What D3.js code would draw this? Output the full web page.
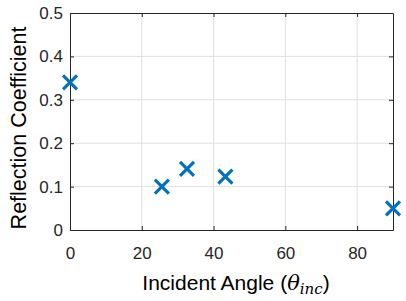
<!DOCTYPE html>
<html>
<head>
<meta charset="utf-8">
<script src="https://cdn.jsdelivr.net/npm/d3@7"></script>
<style>
  html, body { margin: 0; padding: 0; background: #fff; }
  svg { display: block; font-family: Arial, "Liberation Sans", sans-serif; }
</style>
</head>
<body>
<svg id="chart" width="406" height="301"></svg>
<script>
// data
var angles = [0, 25.6, 32.6, 43.3, 90];
var coefficients = [0.34, 0.10, 0.141, 0.123, 0.05];
var xTicks = [0, 20, 40, 60, 80];
var yTicks = [0, 0.1, 0.2, 0.3, 0.4, 0.5];

var W = 406, H = 301;
var plot = { left: 70, top: 13, right: 393, bottom: 230 };

var svg = d3.select("#chart");

var x = d3.scaleLinear().domain([0, 90]).range([plot.left, plot.right]);
var y = d3.scaleLinear().domain([0, 0.5]).range([plot.bottom, plot.top]);

svg.append("rect")
  .attr("width", W).attr("height", H).attr("fill", "#fff");

// grid
var grid = svg.append("g").attr("class", "grid");
grid.selectAll(".gx")
  .data(xTicks.filter(function(d) { return d > 0; }))
  .enter().append("line")
  .attr("x1", d => x(d)).attr("x2", d => x(d))
  .attr("y1", plot.top).attr("y2", plot.bottom)
  .attr("stroke", "#e0e0e0").attr("stroke-width", 1);
grid.selectAll(".gy")
  .data(yTicks.filter(function(d) { return d > 0 && d < 0.5; }))
  .enter().append("line")
  .attr("x1", plot.left).attr("x2", plot.right)
  .attr("y1", d => y(d)).attr("y2", d => y(d))
  .attr("stroke", "#e0e0e0").attr("stroke-width", 1);

// axes, ticks inward like matlab
var axisColor = "#262626";
var xAxis = svg.append("g")
  .attr("transform", "translate(0," + plot.bottom + ")")
  .call(d3.axisBottom(x).tickValues(xTicks).tickSizeInner(-4).tickSizeOuter(0).tickPadding(17));
var yAxis = svg.append("g")
  .attr("transform", "translate(" + plot.left + ",0)")
  .call(d3.axisLeft(y).tickValues(yTicks).tickFormat(d3.format("~g")).tickSizeInner(-4).tickSizeOuter(0).tickPadding(7));
var xTop = svg.append("g")
  .attr("transform", "translate(0," + plot.top + ")")
  .call(d3.axisTop(x).tickValues(xTicks).tickSizeInner(-4).tickSizeOuter(0).tickFormat(""));
var yRight = svg.append("g")
  .attr("transform", "translate(" + plot.right + ",0)")
  .call(d3.axisRight(y).tickValues(yTicks).tickSizeInner(-4).tickSizeOuter(0).tickFormat(""));

[xAxis, yAxis, xTop, yRight].forEach(function(g) {
  g.select(".domain").attr("stroke", axisColor).attr("stroke-width", 1);
  g.selectAll(".tick line").attr("stroke", axisColor);
  g.selectAll(".tick text")
    .attr("fill", "#262626")
    .style("font-size", "17px")
    .style("font-family", "Arial, 'Liberation Sans', sans-serif");
});

// markers
var half = 7;
var marks = svg.append("g").attr("class", "marks");
var pts = angles.map(function(a, i) { return { a: a, c: coefficients[i] }; });
var mk = marks.selectAll("g.pt").data(pts).enter().append("g")
  .attr("transform", d => "translate(" + x(d.a) + "," + y(d.c) + ")");
mk.append("line")
  .attr("x1", -half).attr("y1", -half).attr("x2", half).attr("y2", half);
mk.append("line")
  .attr("x1", -half).attr("y1", half).attr("x2", half).attr("y2", -half);
mk.selectAll("line")
  .attr("stroke", "#0072BD").attr("stroke-width", 3.2).attr("stroke-linecap", "butt");

// axis labels
var xl = svg.append("text")
  .attr("x", 236).attr("y", 290)
  .attr("text-anchor", "middle")
  .attr("fill", "#000")
  .style("font-size", "21px");
xl.append("tspan").text("Incident Angle (");
xl.append("tspan").text("θ")
  .style("font-family", "'DejaVu Serif', serif").style("font-style", "italic");
xl.append("tspan").text("inc")
  .attr("dy", 4)
  .style("font-family", "'DejaVu Serif', serif").style("font-style", "italic").style("font-size", "15px");
xl.append("tspan").text(")").attr("dy", -4);

svg.append("text")
  .attr("transform", "translate(26," + 128 + ") rotate(-90)")
  .attr("text-anchor", "middle")
  .attr("fill", "#000")
  .style("font-size", "21.5px")
  .text("Reflection Coefficient");
</script>
</body>
</html>
